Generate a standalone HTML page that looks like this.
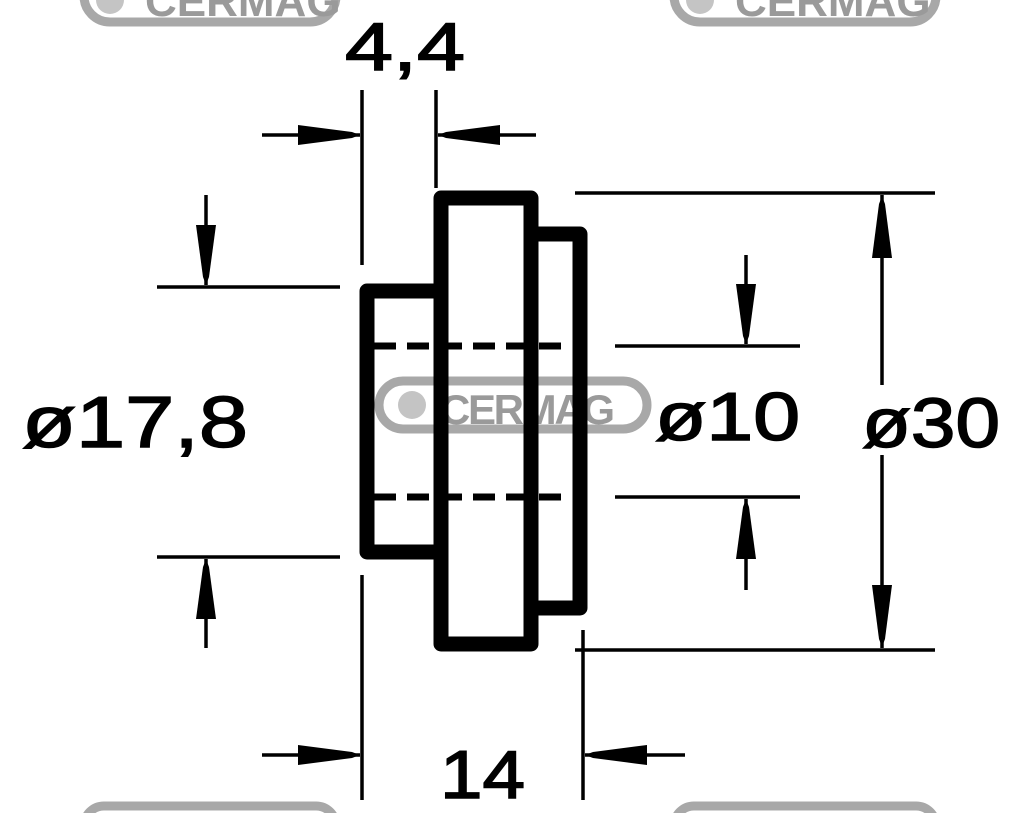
<!DOCTYPE html>
<html><head><meta charset="utf-8"><style>
html,body{margin:0;padding:0;background:#fff;width:1024px;height:813px;overflow:hidden}
svg{display:block;overflow:hidden}
text{font-family:"Liberation Sans",sans-serif;fill:#000;stroke:#000;stroke-width:1.5}
.wm{font-family:"Liberation Sans",sans-serif;font-weight:bold;fill:#9a9a9a;stroke:none}
</style></head><body>
<svg id="s" width="1024" height="813" viewBox="0 0 1024 813" xmlns="http://www.w3.org/2000/svg">
<g fill="none" stroke="#a8a8a8" stroke-width="9">
<rect x="84" y="-30" width="252" height="52" rx="26"/>
<rect x="674" y="-30" width="262" height="52" rx="26"/>
<rect x="84" y="806" width="252" height="40" rx="20"/>
<rect x="674" y="806" width="262" height="40" rx="20"/>
<rect x="379" y="381" width="268" height="48" rx="24"/>
</g>
<text class="wm" x="145" y="16" font-size="44">CERMAG</text>
<text class="wm" x="735" y="16" font-size="44">CERMAG</text>
<text class="wm" x="440" y="424" font-size="42" textLength="175">CERMAG</text>
<circle cx="412" cy="405" r="14" fill="#c4c4c4"/>
<circle cx="110" cy="0" r="14" fill="#c4c4c4"/>
<circle cx="700" cy="0" r="14" fill="#c4c4c4"/>

<g fill="none" stroke="#000" stroke-width="15" stroke-linejoin="round">
<path d="M434,291 L367,291 L367,552 L434,552"/>
<rect x="441" y="198" width="90" height="446"/>
<path d="M538,234 L580,234 L580,608 L538,608"/>
</g>
<g stroke="#000" stroke-width="7" stroke-dasharray="22,11">
<line x1="374" y1="346" x2="566" y2="346"/>
<line x1="374" y1="497" x2="566" y2="497"/>
</g>

<g stroke="#000" stroke-width="3.5">
<line x1="362" y1="90" x2="362" y2="265"/>
<line x1="436" y1="90" x2="436" y2="188"/>
<line x1="262" y1="135" x2="360" y2="135"/>
<line x1="438" y1="135" x2="536" y2="135"/>
<line x1="157" y1="287" x2="340" y2="287"/>
<line x1="157" y1="557" x2="340" y2="557"/>
<line x1="206" y1="195" x2="206" y2="285"/>
<line x1="206" y1="559" x2="206" y2="648"/>
<line x1="615" y1="346" x2="800" y2="346"/>
<line x1="615" y1="497" x2="800" y2="497"/>
<line x1="746" y1="255" x2="746" y2="344"/>
<line x1="746" y1="499" x2="746" y2="590"/>
<line x1="575" y1="193" x2="935" y2="193"/>
<line x1="575" y1="650" x2="935" y2="650"/>
<line x1="882" y1="195" x2="882" y2="385"/>
<line x1="882" y1="455" x2="882" y2="648"/>
<line x1="362" y1="575" x2="362" y2="800"/>
<line x1="583" y1="630" x2="583" y2="800"/>
<line x1="262" y1="755" x2="360" y2="755"/>
<line x1="585" y1="755" x2="685" y2="755"/>
</g>
<g id="arrows" fill="#000"></g>

<text x="345" y="70" font-size="68" textLength="120" lengthAdjust="spacingAndGlyphs">4,4</text>
<text x="22" y="447" font-size="72" textLength="226" lengthAdjust="spacingAndGlyphs">ø17,8</text>
<text x="655" y="440" font-size="68" textLength="145" lengthAdjust="spacingAndGlyphs">ø10</text>
<text x="862" y="447" font-size="70" textLength="138" lengthAdjust="spacingAndGlyphs">ø30</text>
<text x="440" y="798" font-size="68" textLength="85" lengthAdjust="spacingAndGlyphs">14</text>
</svg>
<script>
function A(tx,ty,dx,dy,L){
  var px=-dy,py=dx;
  var bx=tx-dx*L,by=ty-dy*L;
  var pts=[[bx+px*10,by+py*10],[tx-dx*8+px*3,ty-dy*8+py*3],[tx,ty],[tx-dx*8-px*3,ty-dy*8-py*3],[bx-px*10,by-py*10]];
  var p=document.createElementNS("http://www.w3.org/2000/svg","polygon");
  p.setAttribute("points",pts.map(function(q){return q[0]+","+q[1]}).join(" "));
  document.getElementById("arrows").appendChild(p);
}
A(360,135,1,0,62);A(438,135,-1,0,62);
A(206,285,0,1,60);A(206,559,0,-1,60);
A(746,344,0,1,60);A(746,499,0,-1,60);
A(882,196,0,-1,62);A(882,647,0,1,62);
A(360,755,1,0,62);A(585,755,-1,0,62);
</script>
</body></html>
